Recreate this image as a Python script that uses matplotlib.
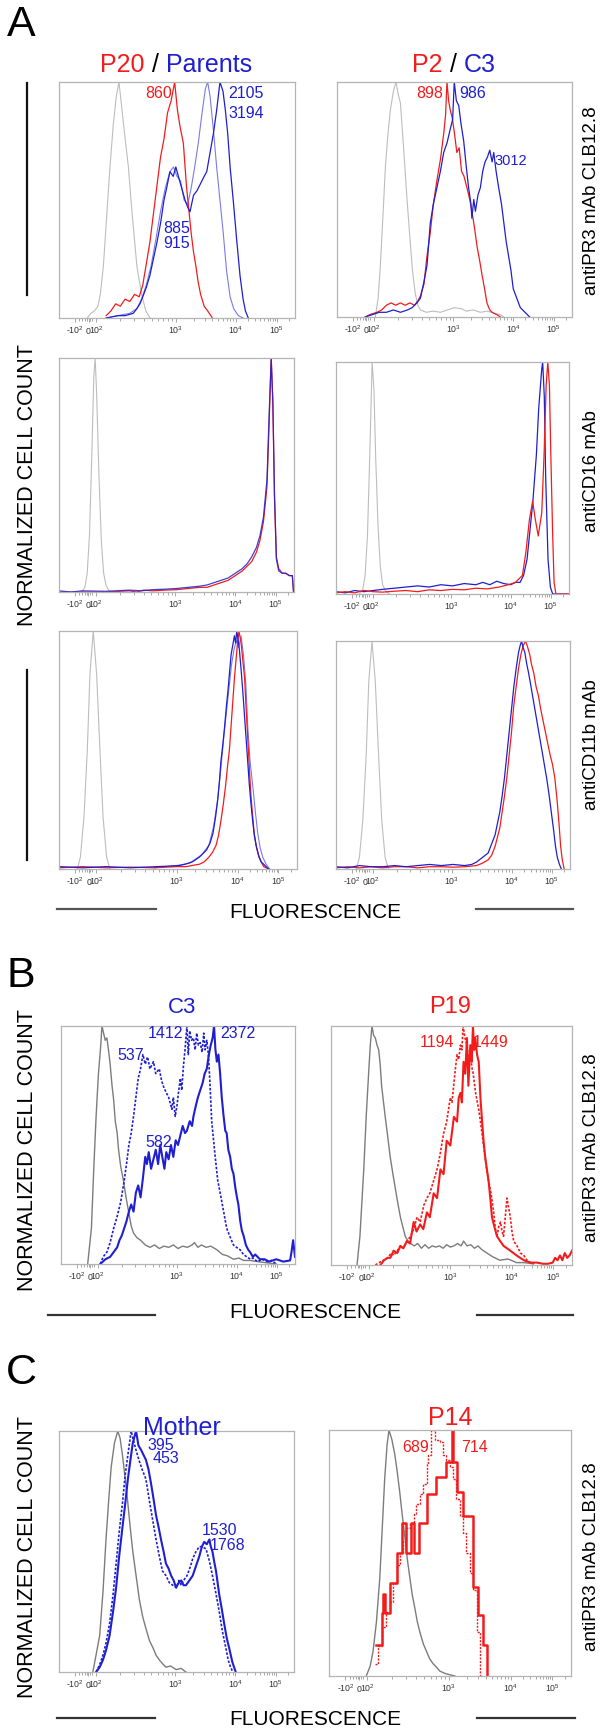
import numpy as np
import matplotlib
matplotlib.use('Agg')
import matplotlib.pyplot as plt
from matplotlib.lines import Line2D

plt.rcParams['font.family'] = ['Liberation Sans', 'DejaVu Sans']
plt.rcParams['mathtext.fontset'] = 'custom'
plt.rcParams['mathtext.rm'] = 'Liberation Sans'
plt.rcParams['mathtext.it'] = 'Liberation Sans'

W, H = 600, 1729
fig = plt.figure(figsize=(6, 17.29), dpi=100)

RED = '#f21c1c'
BLUE = '#1f1fd0'
LBLUE = '#7a7aec'
LGRAY = '#bdbdbd'
DGRAY = '#7c7c7c'

# ---------------- axis ticks (x in percent of plotted channel range) ----------
tick_values = ['-100', '0', '100', '1e3', '1e4', '1e5']
tick_pos = [6.8, 12.5, 15.7, 49.5, 75.0, 92.2]
tick_lab = [r'-10$^2$', '0', r'10$^2$', r'10$^3$', r'10$^4$', r'10$^5$']

# ---------------- data: panel A row 1 left (P20 / Parents) -------------------
a1l_gray_x = [12, 13.5, 15, 16.5, 17.5, 18.8, 20, 21.6, 23, 24.3, 25.4, 26.5, 27.8, 29.4, 31, 33, 35, 36.8, 38.6]
a1l_gray_y = [0, 2, 3, 5, 10, 22, 40, 64, 82, 94, 100, 90, 78, 64, 44, 22, 10, 3, 0]
a1l_red_x = [20, 22, 24, 26, 28, 30, 32, 34, 35.5, 37, 38.5, 40, 41.5, 43, 44.5, 46, 47.5, 49, 50.2, 51.3, 52.7, 54, 55, 56, 57, 58, 59, 60, 61.5, 63, 65]
a1l_red_y = [1, 3, 6, 5, 8, 7, 10, 9, 14, 23, 32, 44, 56, 68, 76, 87, 92, 100, 88, 81, 74, 56, 46, 36, 28, 22, 15, 10, 5, 3, 0]
a1l_blue_x = [20, 25, 28, 31.5, 33, 34.3, 35.5, 37, 38.5, 40, 41.5, 43, 44.5, 45.6, 47, 48.4, 49.5, 50.6, 52, 53.4, 54.5, 55.5, 57, 58.5, 60, 61.5, 62.6, 64, 65.4, 66.8, 68.2, 69.5, 70.5, 71.5, 72.5, 74, 75.3, 76.7, 78, 79, 80.2]
a1l_blue_y = [0, 1, 1, 2, 4, 6, 9, 13, 18, 25, 32, 40, 50, 55, 62, 60, 64, 60, 55, 50, 47, 45, 52, 54, 57, 60, 62, 70, 78, 88, 100, 96, 88, 78, 64, 48, 33, 18, 8, 3, 0]
a1l_lblue_x = [20, 25, 30, 33, 35, 37, 39, 41, 43, 45, 47, 48.5, 50, 51.5, 53, 54.5, 56, 57.5, 59, 60.5, 62, 63, 64, 65.4, 66.8, 68.2, 69.6, 71, 72.5, 74, 76, 78]
a1l_lblue_y = [0, 1, 2, 4, 8, 14, 22, 33, 45, 55, 62, 64, 60, 58, 50, 48, 55, 64, 74, 86, 97, 100, 94, 80, 64, 50, 36, 20, 9, 4, 1, 0]

# ---------------- panel A row 1 right (P2 / C3) -----------------------------
a1r_gray_x = [16.3, 17.5, 18.4, 19.5, 20.6, 21.7, 22.7, 24, 25.1, 26, 27, 28.4, 29.8, 31, 32, 33.3, 34.4, 35.5, 38, 41, 44, 47, 50, 53, 55, 58, 61, 64, 67, 69.5, 71]
a1r_gray_y = [0, 8, 21, 42, 64, 78, 88, 96, 100, 95, 91, 71, 50, 34, 21, 10, 5, 3, 2, 2.5, 2, 3, 4, 3.5, 2.5, 3, 2, 2.5, 1.5, 1, 0]
a1r_red_x = [12, 14, 17, 19, 21, 23, 25, 27, 29, 31, 33, 34.5, 35.5, 37, 38.3, 39.7, 41, 42.5, 44, 45.4, 46.2, 46.8, 47.5, 48.2, 49, 50, 51, 52, 53, 54, 55.3, 56.5, 57.4, 58.5, 59.6, 60.7, 61.7, 62.8, 63.8, 65, 66, 68, 69.5]
a1r_red_y = [0, 1, 2, 3, 5, 6, 5, 6, 5, 6, 5, 7, 9, 14, 26, 36, 48, 58, 67, 78, 86, 100, 92, 88, 85, 78, 70, 72, 62, 60, 55, 50, 45, 38, 30, 24, 18, 12, 6, 3, 2, 1, 0]
a1r_blue_x = [12, 15, 18, 21, 24, 27, 30, 32, 34, 35.5, 37, 38.3, 39.7, 41, 42.5, 44, 45.4, 46.8, 48.2, 49.2, 49.9, 50.8, 51.8, 52.8, 53.9, 55, 56, 57, 57.4, 58.2, 58.9, 60, 61, 62, 63, 64, 65, 66, 66.7, 67.7, 68.8, 70, 71, 72, 73, 74, 75, 76.5, 78, 80, 81, 82]
a1r_blue_y = [0, 1, 2, 2, 3, 2, 3, 4, 6, 8, 15, 22, 40, 48, 55, 62, 70, 74, 80, 84, 100, 92, 90, 82, 75, 64, 55, 48, 42, 50, 45, 52, 55, 62, 66, 68, 71, 66, 70, 62, 55, 48, 40, 32, 26, 20, 12, 8, 4, 2, 1, 0]

# ---------------- panel A row 2 (antiCD16) ----------------------------------
a2l_gray_x = [9.6, 11, 12, 13, 14, 14.8, 15.4, 16, 17, 18, 19, 20, 21, 22.4]
a2l_gray_y = [0, 2, 8, 25, 60, 92, 100, 85, 50, 22, 8, 3, 1, 0]
a2l_red_x = [0, 5, 10, 20, 30, 33, 36, 40, 45, 50, 55, 60, 63, 66, 69, 72, 75, 78, 80, 82, 84, 85.5, 87, 88.5, 89.5, 90.3, 91, 91.7, 92.5, 93.5, 95, 96.5, 98, 99.3, 99.8]
a2l_red_y = [0, 0, 0, 0, 0.5, 0, 0.8, 0.5, 0.8, 1, 1.5, 2, 2, 3, 4, 5, 7, 9, 11, 13, 17, 22, 30, 45, 75, 100, 80, 40, 15, 10, 8, 8, 7, 7, 0]
a2l_blue_x = [0, 5, 10, 20, 30, 35, 40, 45, 50, 55, 60, 63, 66, 69, 72, 75, 78, 80, 82, 84, 85.5, 87, 88.5, 89.5, 90.3, 91, 91.7, 92.5, 93.5, 95, 96.5, 98, 99.3, 99.8]
a2l_blue_y = [0.5, 0, 0.5, 0.3, 0.8, 0.5, 1, 1.2, 1.5, 2, 2.5, 3, 4, 5, 6, 8, 10, 12, 15, 19, 24, 32, 48, 78, 100, 82, 42, 14, 9, 8, 8, 7, 7, 0]
a2r_gray_x = [10, 11.5, 12.5, 13.5, 14.5, 15.5, 16.3, 17, 18, 19, 20, 21.5, 23]
a2r_gray_y = [0, 2, 8, 25, 60, 100, 88, 60, 30, 12, 4, 1, 0]
a2r_red_x = [0, 4, 8, 12, 16, 20, 25, 30, 35, 40, 45, 50, 55, 60, 65, 70, 74, 77, 80, 81.5, 83, 84.4, 85.4, 86.8, 88.3, 89.3, 90.2, 90.9, 91.6, 92.2, 93, 93.6, 94.4, 100]
a2r_red_y = [0.5, 1, 0.5, 1.5, 1, 0.8, 1.2, 1.5, 1, 1.8, 1.5, 2, 1.8, 2.5, 2.2, 3, 4, 5, 8, 18, 32, 40, 33, 25, 35, 60, 90, 100, 90, 60, 25, 5, 0, 0]
a2r_blue_x = [0, 4, 8, 12, 16, 20, 25, 30, 35, 40, 45, 50, 55, 60, 63, 66, 69, 72, 75, 77, 79, 80.5, 82, 83, 84.5, 86, 87, 88.3, 88.7, 89.4, 90, 91, 92, 93, 100]
a2r_blue_y = [1, 0.5, 1.5, 1, 1.5, 2, 2.5, 3, 3.5, 3, 4, 3.5, 4.5, 4, 5, 4, 5.5, 4.5, 4, 5, 5, 8, 15, 25, 40, 60, 80, 97, 100, 85, 50, 15, 3, 0, 0]

# ---------------- panel A row 3 (antiCD11b) ---------------------------------
a3l_gray_x = [7.7, 9, 10.5, 11.9, 13, 14.4, 15.8, 17.2, 18.5, 20, 21.4]
a3l_gray_y = [0, 5, 22, 50, 82, 100, 82, 50, 22, 5, 0]
a3l_red_x = [0, 10, 20, 30, 40, 45, 50, 53.5, 56, 59, 61, 63, 64.5, 66, 67, 68, 69, 70, 70.8, 71.6, 72.3, 73, 73.7, 74.4, 75, 75.6, 76.5, 77.2, 78, 78.6, 79.3, 80, 80.7, 81.4, 82, 83, 84, 85, 86, 87, 88.4]
a3l_red_y = [0.5, 1, 0.5, 0.8, 0.5, 0.8, 1, 1, 1.5, 2, 3, 5, 7, 10, 14, 20, 27, 35, 43, 50, 60, 70, 80, 88, 95, 100, 95, 88, 80, 68, 55, 42, 30, 22, 15, 9, 5, 3, 1, 0.5, 0]
a3l_blue_x = [0, 10, 20, 30, 41, 46, 50.7, 53, 56, 59, 62, 63.5, 64.7, 65.8, 66.8, 67.5, 68, 68.8, 69.6, 70.3, 71, 71.6, 72.3, 73, 73.7, 74.2, 74.7, 75.3, 75.8, 76.5, 77.2, 77.9, 78.6, 79.3, 80, 80.7, 81.4, 82.1, 82.8, 83.8, 84.9, 86, 87, 88]
a3l_blue_y = [1, 0.5, 1, 0.5, 1, 1.2, 1.5, 2, 3, 5, 8, 11, 15, 22, 30, 38, 45, 52, 60, 68, 75, 82, 90, 94, 98, 95, 100, 96, 92, 84, 75, 65, 55, 45, 35, 27, 20, 14, 10, 6, 3, 2, 1, 0]
a3l_lblue_x = [40, 50, 55, 60, 63, 65, 66.5, 68, 69.5, 71, 72.5, 73.5, 74.5, 75.5, 76.5, 77.5, 78.5, 79.3, 80.3, 81.4, 82.5, 83.5, 84.5, 85.6, 87, 88.5]
a3l_lblue_y = [0.5, 1.5, 2.5, 6, 10, 18, 28, 42, 58, 72, 86, 92, 96, 93, 98, 90, 78, 60, 45, 35, 24, 15, 9, 5, 2, 0]
a3r_gray_x = [8.7, 10, 11.5, 12.9, 14, 15.4, 16.8, 18.2, 19.5, 21, 22.4]
a3r_gray_y = [0, 5, 22, 50, 82, 100, 82, 50, 22, 5, 0]
a3r_blue_x = [0, 5, 10, 15, 20, 25, 30, 35, 40, 45, 50, 55, 58, 60, 62.5, 65, 66.5, 68, 69, 70, 71, 72, 73, 74, 75, 76, 77, 78, 78.7, 79.3, 80, 80.7, 81.5, 82.3, 83, 84, 85, 86, 87, 88, 89, 90, 91, 92, 93, 93.8, 94.6, 95.5, 96.3]
a3r_blue_y = [1, 0.5, 1.5, 1, 1, 1.5, 1, 1.5, 2, 1.5, 2, 1.5, 2, 3, 5, 7, 11, 15, 20, 25, 32, 40, 50, 60, 70, 80, 88, 95, 98, 100, 97, 95, 90, 86, 82, 76, 70, 64, 58, 52, 46, 40, 33, 25, 17, 10, 5, 2, 0]
a3r_red_x = [0, 5, 10, 15, 20, 25, 30, 35, 40, 45, 50, 55, 60, 62.5, 65, 66.5, 68, 69, 70, 71, 72, 73, 74, 75, 76, 77, 78, 79, 80, 81, 82, 82.8, 83.5, 84.5, 85.5, 86.5, 87.5, 88.5, 89.5, 90.5, 91.5, 92.5, 93.5, 94.5, 95.3, 96, 96.7, 97.5]
a3r_red_y = [0.5, 1, 0.5, 1, 0.5, 1, 1, 0.5, 1, 1, 0.8, 1, 1.5, 2.5, 4, 6, 10, 14, 18, 25, 32, 40, 50, 60, 72, 80, 88, 94, 98, 100, 97, 94, 90, 86, 80, 76, 70, 65, 60, 55, 50, 46, 40, 30, 20, 10, 4, 0]

# ---------------- panel B left (C3) -----------------------------------------
bl_gray_x = [11.4, 13, 14, 15, 16, 17, 17.5, 18.2, 18.9, 19.6, 20.3, 21, 21.8, 22.5, 23.2, 24, 24.6, 25.5, 26.7, 27.8, 28.9, 30, 31, 32.5, 34, 36, 38, 40, 42, 44, 46, 48, 50, 52, 54, 56, 57, 58.5, 60, 62, 64, 66.6, 69, 71, 73.7, 76, 78, 80.8, 84, 88, 92]
bl_gray_y = [0, 15, 40, 62, 80, 92, 100, 97, 94, 95, 90, 84, 75, 69, 60, 55, 48, 41, 35, 28, 22, 16, 13, 11, 10, 8, 7, 8, 6.5, 7.5, 7, 8, 6.5, 7.5, 7, 8, 9, 7, 8, 7, 7.5, 6, 4, 3.5, 2, 2.5, 1.5, 1.5, 1, 0.5, 0]
bl_dot_x = [16.8, 18, 19.6, 21, 22.5, 24, 25.5, 27, 28, 29, 30, 31, 32, 33, 34, 35, 36, 37, 38, 39.5, 40.5, 42, 43, 44, 45, 46, 47.4, 48, 48.8, 49.5, 50.2, 51, 51.6, 52.3, 53, 53.8, 54.4, 55, 55.8, 56.6, 57.3, 58, 58.7, 59.5, 60.3, 61, 61.6, 62.3, 63, 63.7, 64.4, 65.2, 65.9, 67, 68, 69.5, 70.8, 72, 73.7, 75, 76.5, 78, 79.4, 81, 82, 84, 86, 88, 90, 92]
bl_dot_y = [0, 3, 5, 9, 15, 20, 26, 35, 42, 50, 55, 62, 70, 78, 82, 88, 84, 87, 82, 85, 80, 82, 77, 74, 72, 70, 65, 70, 62, 66, 72, 78, 73, 83, 90, 100, 88, 98, 94, 95, 90, 97, 92, 93, 89, 97, 90, 94, 88, 75, 60, 52, 45, 35, 30, 22, 15, 12, 8, 7, 6, 4, 3, 2, 2.5, 1, 2, 1, 1.5, 0]
bl_sol_x = [16.8, 19, 21, 22.5, 24, 25, 26, 27, 28, 29, 30, 31, 32, 33, 34, 35, 36, 36.7, 37.5, 38.5, 39.5, 40.5, 41.5, 42.4, 43.3, 44.2, 45, 46, 47, 48, 49, 50, 51, 52, 53, 53.8, 55, 56, 56.6, 57.5, 58.5, 59.5, 60.5, 61.4, 62.3, 63.2, 64, 64.8, 65.4, 66, 66.6, 67.3, 68, 68.7, 69.5, 70.2, 70.8, 71.5, 72.3, 73, 73.7, 74.5, 75.2, 75.8, 76.6, 77.3, 78, 79, 80, 80.8, 82, 83, 85, 87, 89, 92, 95, 97.9, 98.5, 99.2, 100]
bl_sol_y = [0, 2, 3, 5, 7, 10, 12, 15, 18, 22, 25, 22, 30, 33, 28, 36, 45, 42, 47, 40, 44, 48, 42, 50, 45, 40, 47, 44, 50, 45, 52, 50, 54, 58, 55, 56, 60, 58, 62, 66, 70, 73, 76, 80, 82, 88, 92, 95, 100, 90, 85, 88, 80, 70, 62, 56, 55, 48, 45, 40, 38, 32, 28, 25, 18, 14, 12, 8, 6, 5, 3, 4, 2, 2, 1, 2, 1, 1.5, 5, 10, 3]

# ---------------- panel B right (P19) ---------------------------------------
br_gray_x = [10.8, 12, 13.6, 14.6, 15.6, 16.3, 17, 17.7, 18.4, 19.1, 19.8, 20.4, 21, 21.8, 22.5, 23.5, 24.6, 25.7, 26.7, 27.7, 28.8, 29.8, 30.8, 32, 33, 34.5, 36, 37.5, 39, 40.5, 42, 43.5, 45, 46.5, 48, 49.5, 51, 52.5, 54, 55, 56.5, 58, 59.5, 61, 62.5, 64.7, 67, 70, 73.5, 77, 80, 84]
br_gray_y = [0, 12, 40, 62, 80, 92, 100, 96, 95, 92, 90, 84, 75, 68, 62, 54, 45, 38, 32, 26, 20, 16, 12, 10, 9, 8, 9, 7, 8.5, 7, 8, 7.5, 8, 7, 8.5, 7.5, 8, 9, 8, 10, 8, 8.5, 7, 8, 6.5, 5, 3.5, 2, 2.5, 1, 1, 0.5]
br_dot_x = [18.4, 20, 21.8, 23.5, 25, 26, 27.5, 28.8, 30, 31.5, 33, 34.3, 35.7, 37, 38.5, 39.8, 41, 42.5, 44, 45.4, 46.7, 48, 49.5, 50.2, 50.9, 51.6, 52.3, 53, 53.7, 54.3, 54.8, 55.6, 56.4, 57.1, 57.8, 58.4, 59, 60, 61.3, 62.3, 63.3, 64.3, 65.4, 66.4, 67.5, 68.2, 68.9, 69.6, 70.3, 71, 71.6, 72.3, 73, 73.7, 74.4, 75.1, 75.8, 77.2, 78.6, 80, 81.3, 82.6, 84]
br_dot_y = [0, 1, 2, 3, 5, 4, 6, 8, 7, 10, 12, 15, 20, 18, 25, 28, 30, 35, 40, 47, 55, 60, 70, 68, 75, 82, 88, 86, 92, 90, 100, 95, 92, 85, 90, 83, 80, 72, 65, 58, 50, 42, 35, 30, 22, 15, 12, 16, 18, 14, 12, 20, 28, 24, 20, 14, 10, 8, 5, 4, 2, 1, 0.5]
br_sol_x = [20.5, 22, 23.5, 24.6, 26, 27.5, 28.8, 30, 31.5, 32.8, 34.3, 35.5, 37, 38.3, 39.8, 41, 42.6, 44, 45.4, 46.7, 48, 49.5, 51, 52.3, 53, 53.7, 54.3, 55, 55.7, 56.4, 57, 57.8, 58.4, 58.9, 59.4, 59.9, 60.6, 61.3, 62, 62.7, 63.3, 64, 64.7, 65.4, 66.1, 66.8, 67.8, 68.9, 70.2, 71.6, 73, 74.4, 75.7, 77, 78.5, 80, 81.3, 83, 85.5, 88, 90, 92, 93, 94, 95, 96, 97, 98, 99, 100]
br_sol_y = [0, 2, 3, 3, 6, 5, 8, 7, 10, 9, 18, 14, 17, 15, 22, 20, 30, 28, 40, 38, 52, 50, 62, 60, 70, 72, 68, 85, 80, 95, 75, 92, 85, 100, 90, 95, 88, 85, 70, 60, 52, 45, 40, 35, 28, 20, 16, 12, 10, 8, 7, 6, 5, 4, 3, 2, 1.5, 1, 1, 0.5, 0.5, 1, 3, 2, 4, 2, 5, 3, 4, 6]

# ---------------- panel C left (Mother) -------------------------------------
cl_gray_x = [14.4, 17.3, 18.7, 20, 21.2, 22.2, 23.6, 25, 26, 27, 28.2, 29.3, 30.3, 31.4, 32.8, 34.2, 35.6, 37, 38.5, 40, 41.3, 42.7, 44, 45.5, 47.5, 49.8, 52, 54]
cl_gray_y = [0, 15, 33, 55, 72, 85, 95, 100, 97, 90, 80, 70, 60, 50, 40, 30, 23, 18, 13, 10, 7, 5, 3.5, 2, 2.5, 1, 1.5, 0]
cl_sol_x = [15.8, 17.3, 18.7, 20, 21.5, 23, 24.3, 25.6, 27, 28.2, 29.3, 30.4, 31.4, 32.2, 32.8, 33.8, 35, 36, 37, 38.1, 39.2, 40.2, 41.3, 42.4, 43.4, 44.5, 45.5, 46.6, 47.7, 48.8, 49.8, 50.9, 52, 53, 54, 55.5, 56.9, 58.3, 59.7, 60.8, 61.8, 62.9, 64, 64.6, 65.3, 66, 66.8, 67.5, 68.2, 69.3, 70.3, 71.4, 72.4, 73.8, 75.2]
cl_sol_y = [0, 2, 5, 9, 15, 25, 35, 48, 60, 70, 80, 88, 95, 98, 100, 94, 92, 90, 88, 84, 78, 72, 65, 60, 55, 50, 45, 43, 40, 38, 35, 37, 38, 36, 36, 38, 40, 44, 48, 52, 54, 53, 55, 52, 50, 46, 42, 37, 32, 26, 20, 14, 10, 4, 0]
cl_dot_x = [15.8, 17.3, 18.7, 20, 21.5, 23, 24.3, 25.6, 27, 28.2, 29.3, 30.7, 31.7, 32.8, 34, 35.4, 37, 38.3, 39.7, 41.3, 42.7, 44, 45.5, 47, 48.4, 50, 51, 52, 53, 54.5, 56, 56.9, 58.3, 59.7, 61, 62.6, 64, 65.3, 66.7, 68.2, 69.5, 71, 72, 73, 74]
cl_dot_y = [0, 3, 7, 12, 20, 32, 45, 58, 70, 82, 90, 100, 96, 92, 88, 84, 80, 72, 64, 55, 48, 42, 40, 37, 36, 35, 38, 36, 38, 40, 44, 47, 50, 52, 52, 51, 46, 40, 33, 25, 17, 10, 5, 2, 0]

# ---------------- panel C right (P14) ---------------------------------------
cr_gray_x = [15.4, 17, 18.2, 19.6, 21, 22, 23, 24, 24.8, 26, 27.2, 28.2, 29.2, 30.2, 31.3, 32.3, 33.4, 34.4, 35.4, 36.5, 37.5, 39, 40.3, 41.6, 43, 44.5, 45.8, 48, 50, 52]
cr_gray_y = [0, 4, 10, 22, 40, 60, 80, 94, 100, 96, 90, 83, 75, 66, 57, 48, 40, 33, 28, 22, 18, 13, 10, 7, 5, 3.5, 2, 1, 0.5, 0]
cr_sol_x = [19.6, 21.7, 22.4, 23.0, 25.1, 27.9, 30.0, 31.8, 34.0, 35.3, 37.0, 40.3, 44.4, 48.5, 50.8, 51.3, 52.7, 55.4, 59.6, 61.7, 63.7, 65.1]
cr_sol_y = [12.6, 25.5, 33.5, 25.5, 37.7, 50, 62, 50, 62, 50, 62, 74, 81, 87, 100, 87, 75, 65, 36, 25, 12.6, 0]
cr_dot_x = [19.0, 20.4, 22.0, 23.6, 25.0, 26.6, 28.0, 29.4, 30.6, 32.0, 33.4, 35.0, 36.0, 37.6, 39.0, 40.4, 41.0, 42.3, 44.0, 45.8, 47.2, 48.5, 50.0, 51.3, 52.6, 54.0, 55.5, 56.8, 58.2, 59.6, 61.0, 62.3]
cr_dot_y = [5, 12, 20, 26, 30, 38, 45, 50, 55, 60, 62, 66, 70, 74, 78, 86, 90, 100, 96, 95, 90, 88, 85, 80, 72, 65, 58, 50, 42, 35, 18, 0]


# ---------------- helpers ---------------------------------------------------
def fx(x):
    return x / W


def fy(y):
    return 1 - y / H


minor_pos = []
dec = [15.7, 49.5, 75.0, 92.2]
for a, b in zip(dec[:-1], dec[1:]):
    for m in range(2, 10):
        minor_pos.append(a + (b - a) * np.log10(m))
minor_pos.append(92.2 + (92.2 - 75.0) * np.log10(2))
minor_pos += [8.5, 9.8, 11.0, 11.8, 13.2, 14.0]


def make_ax(x0, x1, y0, y1):
    ax = fig.add_axes([fx(x0), fy(y1), (x1 - x0) / W, (y1 - y0) / H])
    ax.set_xlim(0, 100)
    ax.set_ylim(0, 100)
    for s in ax.spines.values():
        s.set_color('#b4b4b4')
        s.set_linewidth(0.9)
    ax.set_yticks([])
    ax.set_xticks(tick_pos)
    ax.set_xticklabels(tick_lab, fontsize=6.3, va='baseline')
    ax.set_xticks(minor_pos, minor=True)
    ax.tick_params(axis='x', which='both', direction='out', color='#9a9a9a',
                   width=0.6, labelcolor='#333333', pad=8.5)
    ax.tick_params(axis='x', which='major', length=3)
    ax.tick_params(axis='x', which='minor', length=2)
    return ax


def ftext(x, y, s, **kw):
    return fig.text(fx(x), fy(y), s, **kw)


renderer = fig.canvas.get_renderer()


def multi_title(cx, base_y, parts, fs):
    texts = []
    widths = []
    for s, c in parts:
        t = fig.text(0, 0, s, color=c, fontsize=fs, va='baseline', ha='left')
        bb = t.get_window_extent(renderer)
        texts.append(t)
        widths.append(bb.width)
    gap = 0.28 * fs * 100 / 72
    total = sum(widths) + gap * (len(parts) - 1)
    x = cx - total / 2
    for t, w in zip(texts, widths):
        t.set_position((fx(x), fy(base_y)))
        x += w + gap


def hline(x0, x1, y, color='#333333', lw=1.6):
    fig.add_artist(Line2D([fx(x0), fx(x1)], [fy(y), fy(y)], color=color, lw=lw))


def vline(x, y0, y1, color='#111111', lw=1.6):
    fig.add_artist(Line2D([fx(x), fx(x)], [fy(y0), fy(y1)], color=color, lw=lw))


# ---------------- panel A ---------------------------------------------------
ax = make_ax(59, 295, 82, 318)
ax.plot(a1l_gray_x, a1l_gray_y, color=LGRAY, lw=0.8)
ax.plot(a1l_lblue_x, a1l_lblue_y, color=LBLUE, lw=0.8)
ax.plot(a1l_red_x, a1l_red_y, color=RED, lw=0.9)
ax.plot(a1l_blue_x, a1l_blue_y, color=BLUE, lw=0.9)

ax = make_ax(337, 572, 82, 317)
ax.plot(a1r_gray_x, a1r_gray_y, color=LGRAY, lw=0.8)
ax.plot(a1r_red_x, a1r_red_y, color=RED, lw=0.9)
ax.plot(a1r_blue_x, a1r_blue_y, color=BLUE, lw=0.9)

ax = make_ax(59, 294, 358, 592)
ax.plot(a2l_gray_x, a2l_gray_y, color=LGRAY, lw=0.8)
ax.plot(a2l_red_x, a2l_red_y, color=RED, lw=0.9)
ax.plot(a2l_blue_x, a2l_blue_y, color=BLUE, lw=0.9, alpha=0.85)

ax = make_ax(336, 569, 362, 594)
ax.plot(a2r_gray_x, a2r_gray_y, color=LGRAY, lw=0.8)
ax.plot(a2r_blue_x, a2r_blue_y, color=BLUE, lw=0.9)
ax.plot(a2r_red_x, a2r_red_y, color=RED, lw=0.9)

ax = make_ax(59, 297, 631, 869)
ax.plot(a3l_gray_x, a3l_gray_y, color=LGRAY, lw=0.8)
ax.plot(a3l_lblue_x, a3l_lblue_y, color=LBLUE, lw=0.8)
ax.plot(a3l_red_x, a3l_red_y, color=RED, lw=0.9)
ax.plot(a3l_blue_x, a3l_blue_y, color=BLUE, lw=0.9)

ax = make_ax(336, 570, 641, 869)
ax.plot(a3r_gray_x, a3r_gray_y, color=LGRAY, lw=0.8)
ax.plot(a3r_red_x, a3r_red_y, color=RED, lw=0.9)
ax.plot(a3r_blue_x, a3r_blue_y, color=BLUE, lw=0.9)

# ---------------- panel B ---------------------------------------------------
ax = make_ax(61, 295, 1026, 1264)
ax.plot(bl_gray_x, bl_gray_y, color=DGRAY, lw=1.0)
ax.plot(bl_dot_x, bl_dot_y, color=BLUE, lw=1.2, ls=(0, (1.5, 1)))
ax.plot(bl_sol_x, bl_sol_y, color=BLUE, lw=1.5)

ax = make_ax(331, 572, 1026, 1265)
ax.plot(br_gray_x, br_gray_y, color=DGRAY, lw=1.0)
ax.plot(br_dot_x, br_dot_y, color=RED, lw=1.2, ls=(0, (1.5, 1)))
ax.plot(br_sol_x, br_sol_y, color=RED, lw=1.5)

# ---------------- panel C ---------------------------------------------------
ax = make_ax(59, 294, 1431, 1672)
ax.plot(cl_gray_x, cl_gray_y, color=DGRAY, lw=1.0)
ax.plot(cl_dot_x, cl_dot_y, color=BLUE, lw=1.2, ls=(0, (1.5, 1)))
ax.plot(cl_sol_x, cl_sol_y, color=BLUE, lw=1.5)

ax = make_ax(329, 571, 1430, 1676)
ax.plot(cr_gray_x, cr_gray_y, color=DGRAY, lw=1.0)
ax.plot(cr_dot_x, cr_dot_y, color=RED, lw=1.0, ls=(0, (1.5, 1)), drawstyle='steps-post')
ax.plot(cr_sol_x, cr_sol_y, color=RED, lw=1.8, drawstyle='steps-post')

# ---------------- text ------------------------------------------------------
for s, y in [('A', 25), ('B', 976), ('C', 1373)]:
    ftext(21, y, s, fontsize=31, ha='center', va='center')

multi_title(176, 72, [('P20', RED), ('/', 'black'), ('Parents', BLUE)], 18)
multi_title(454, 72, [('P2', RED), ('/', 'black'), ('C3', BLUE)], 18)
ftext(182, 1013, 'C3', fontsize=16, color=BLUE, ha='center', va='baseline')
ftext(450, 1013, 'P19', fontsize=17, color=RED, ha='center', va='baseline')
ftext(182, 1435, 'Mother', fontsize=18, color=BLUE, ha='center', va='baseline')
ftext(450, 1425, 'P14', fontsize=18, color=RED, ha='center', va='baseline')

NFS = 11.5
ftext(172, 98, '860', fontsize=NFS, color=RED, ha='right', va='baseline')
ftext(228, 98, '2105', fontsize=NFS, color=BLUE, ha='left', va='baseline')
ftext(228, 118, '3194', fontsize=NFS, color=BLUE, ha='left', va='baseline')
ftext(163, 233, '885', fontsize=NFS, color=BLUE, ha='left', va='baseline')
ftext(163, 248, '915', fontsize=NFS, color=BLUE, ha='left', va='baseline')
ftext(443, 98, '898', fontsize=NFS, color=RED, ha='right', va='baseline')
ftext(459, 98, '986', fontsize=NFS, color=BLUE, ha='left', va='baseline')
ftext(494, 165, '3012', fontsize=10.5, color=BLUE, ha='left', va='baseline')

ftext(148, 1038, '1412', fontsize=NFS, color=BLUE, ha='left', va='baseline')
ftext(117, 1060, '537', fontsize=NFS, color=BLUE, ha='left', va='baseline')
ftext(220, 1038, '2372', fontsize=NFS, color=BLUE, ha='left', va='baseline')
ftext(145, 1147, '582', fontsize=NFS, color=BLUE, ha='left', va='baseline')
ftext(420, 1047, '1194', fontsize=NFS, color=RED, ha='left', va='baseline')
ftext(473, 1047, '1449', fontsize=NFS, color=RED, ha='left', va='baseline')

ftext(147, 1450, '395', fontsize=NFS, color=BLUE, ha='left', va='baseline')
ftext(153, 1463, '453', fontsize=NFS, color=BLUE, ha='left', va='baseline')
ftext(202, 1535, '1530', fontsize=NFS, color=BLUE, ha='left', va='baseline')
ftext(210, 1550, '1768', fontsize=NFS, color=BLUE, ha='left', va='baseline')
ftext(402, 1452, '689', fontsize=NFS, color=RED, ha='left', va='baseline')
ftext(461, 1452, '714', fontsize=NFS, color=RED, ha='left', va='baseline')

SFS = 13.5
ftext(591, 201, 'antiPR3 mAb CLB12.8', fontsize=SFS, rotation=90, ha='center', va='center')
ftext(591, 471, 'antiCD16 mAb', fontsize=SFS, rotation=90, ha='center', va='center')
ftext(591, 745, 'antiCD11b mAb', fontsize=SFS, rotation=90, ha='center', va='center')
ftext(591, 1148, 'antiPR3 mAb CLB12.8', fontsize=SFS, rotation=90, ha='center', va='center')
ftext(591, 1557, 'antiPR3 mAb CLB12.8', fontsize=SFS, rotation=90, ha='center', va='center')

for y in (485, 1150, 1557):
    ftext(28, y, 'NORMALIZED CELL COUNT', fontsize=15.5, rotation=90, ha='center', va='center')

for y in (918, 1318, 1725):
    ftext(315, y, 'FLUORESCENCE', fontsize=15, ha='center', va='baseline')

vline(27, 83, 295)
vline(27, 670, 860)
hline(57, 156, 909, color='#555555')
hline(476, 573, 909, color='#555555')
hline(48, 155, 1315)
hline(477, 573, 1315)
hline(57, 155, 1718)
hline(477, 575, 1718)

fig.savefig('out.png', dpi=100)
